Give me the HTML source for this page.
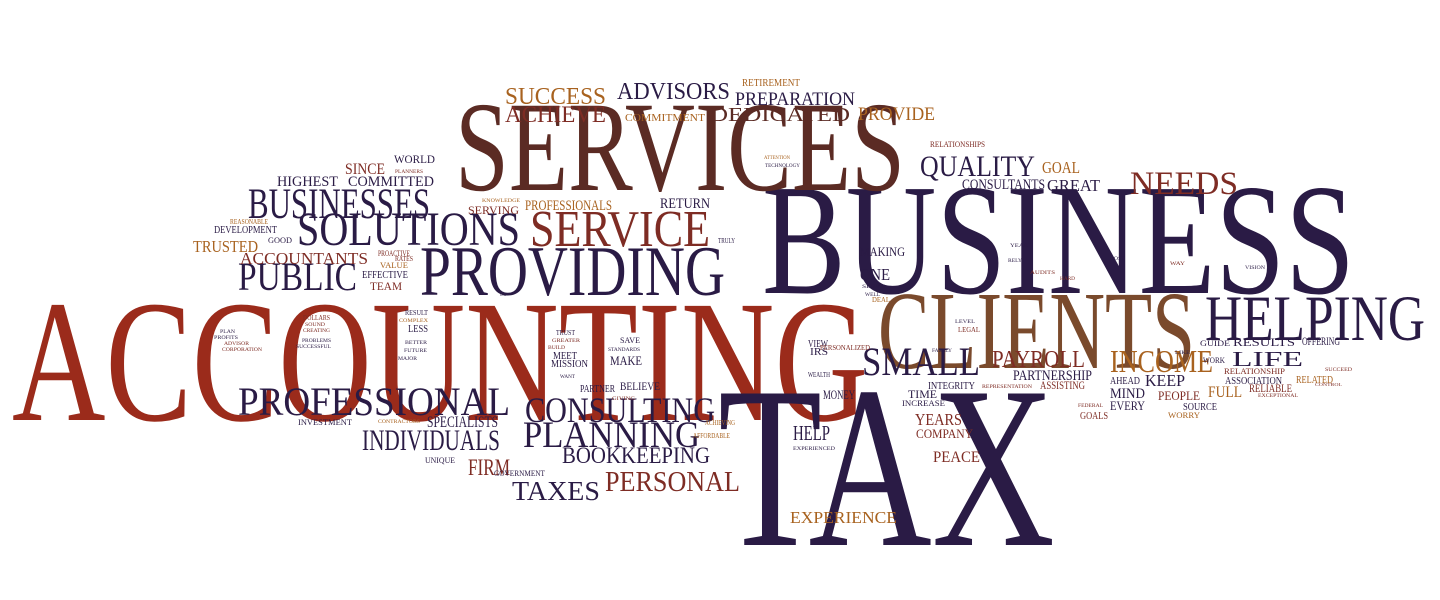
<!DOCTYPE html>
<html><head><meta charset="utf-8"><style>
html,body{margin:0;padding:0;background:#fff;width:1440px;height:600px;overflow:hidden}
svg text{font-family:"Liberation Serif",serif}
</style></head><body>
<svg id="cloud" width="1440" height="600" viewBox="0 0 1440 600" xmlns="http://www.w3.org/2000/svg"></svg>
<script>
const palette={N:"#2a1b45",R:"#9b2b1b",B:"#5b2b24",T:"#7a4a2c",O:"#a8621f",M:"#7e2c24"};
// [word, left, capTop, right, capBottom, color]
const words=[
["ACCOUNTING",12,298,868,420,"R"],
["TAX",718,383,1055,545,"N"],
["BUSINESS",762,182,1355,293,"N"],
["SERVICES",455,100,905,190,"B"],
["CLIENTS",878,290,1195,368,"T"],
["HELPING",1205,295,1425,340,"N"],
["PROVIDING",420,245,725,295,"N"],
["SOLUTIONS",297,212,520,245,"N"],
["BUSINESSES",248,188,430,218,"N"],
["SERVICE",530,210,710,246,"M"],
["PUBLIC",238,262,357,290,"N"],
["PROFESSIONAL",238,387,510,415,"N"],
["CONSULTING",525,397,715,422,"N"],
["PLANNING",523,421,700,447,"N"],
["INDIVIDUALS",362,429,500,450,"N"],
["SMALL",862,347,980,375,"N"],
["PAYROLL",992,350,1085,367,"M"],
["INCOME",1110,350,1213,372,"O"],
["LIFE",1232,351,1303,366,"N"],
["NEEDS",1130,171,1238,194,"M"],
["QUALITY",920,155,1035,176,"N"],
["GOAL",1042,161,1080,173,"O"],
["GREAT",1047,179,1100,191,"N"],
["CONSULTANTS",962,179,1045,189,"N"],
["SUCCESS",505,87,606,104,"O"],
["ACHIEVE",505,106,606,122,"M"],
["ADVISORS",617,82,730,99,"N"],
["PREPARATION",735,92,855,105,"N"],
["DEDICATED",710,107,850,121,"B"],
["PROVIDE",858,107,935,120,"O"],
["COMMITMENT",625,114,705,121,"O"],
["RETIREMENT",742,79,800,86,"O"],
["RELATIONSHIPS",930,141,985,147,"M"],
["HIGHEST",277,176,338,186,"N"],
["SINCE",345,163,385,174,"M"],
["COMMITTED",348,176,434,186,"N"],
["WORLD",394,155,435,163,"N"],
["PLANNERS",395,169,423,173,"M"],
["TRUSTED",193,240,258,252,"O"],
["REASONABLE",230,219,268,224,"O"],
["DEVELOPMENT",214,226,277,233,"N"],
["GOOD",268,237,292,243,"N"],
["ACCOUNTANTS",240,252,368,264,"M"],
["PROACTIVE",378,250,410,256,"M"],
["RATES",395,256,413,261,"M"],
["VALUE",380,262,408,268,"O"],
["EFFECTIVE",362,271,408,278,"N"],
["TEAM",370,282,402,290,"M"],
["EASE",500,292,506,296,"N"],
["PROFESSIONALS",525,200,612,210,"O"],
["SERVING",468,206,519,214,"M"],
["KNOWLEDGE",482,198,520,202,"O"],
["RETURN",660,198,710,208,"N"],
["TRULY",718,238,735,243,"N"],
["ATTENTION",764,155,790,159,"O"],
["TECHNOLOGY",765,163,800,167,"N"],
["MAKING",860,247,905,256,"N"],
["ONE",860,268,890,280,"N"],
["SERVE",862,284,885,288,"N"],
["WELL",865,292,880,296,"N"],
["DEAL",872,297,890,302,"O"],
["YEAR",1010,243,1028,247,"N"],
["RELY",1008,258,1022,262,"N"],
["AUDITS",1030,270,1055,274,"M"],
["HARD",1060,276,1075,280,"M"],
["COST",1110,256,1125,260,"N"],
["WAY",1170,261,1185,265,"M"],
["VISION",1245,265,1265,269,"N"],
["LEVEL",955,319,975,323,"N"],
["LEGAL",958,327,980,332,"M"],
["FAMILY",932,348,952,352,"N"],
["LIKE",1175,350,1190,354,"N"],
["VIEW",808,340,828,347,"N"],
["IRS",810,348,828,355,"N"],
["PERSONALIZED",820,345,870,350,"M"],
["WEALTH",808,372,830,377,"N"],
["MONEY",823,390,855,399,"N"],
["TIME",908,390,937,398,"N"],
["INTEGRITY",928,382,975,389,"N"],
["INCREASE",902,400,945,406,"N"],
["YEARS",915,413,962,425,"M"],
["COMPANY",916,429,973,438,"M"],
["PEACE",933,451,980,462,"M"],
["REPRESENTATION",982,384,1032,388,"M"],
["PARTNERSHIP",1013,370,1092,380,"N"],
["ASSISTING",1040,381,1085,389,"M"],
["GUIDE",1200,340,1230,346,"N"],
["RESULTS",1233,338,1295,346,"N"],
["OFFERING",1302,337,1340,345,"N"],
["WORK",1203,357,1225,363,"N"],
["AHEAD",1110,377,1140,384,"N"],
["KEEP",1145,374,1185,386,"N"],
["MIND",1110,388,1145,398,"N"],
["PEOPLE",1158,391,1200,400,"M"],
["FULL",1208,386,1242,397,"O"],
["RELATIONSHIP",1224,368,1285,374,"M"],
["ASSOCIATION",1225,377,1282,384,"N"],
["RELIABLE",1249,384,1292,392,"M"],
["EXCEPTIONAL",1258,393,1298,397,"M"],
["RELATED",1296,376,1333,383,"O"],
["SUCCEED",1325,367,1352,371,"M"],
["CONTROL",1315,383,1342,386,"M"],
["FEDERAL",1078,403,1103,407,"M"],
["EVERY",1110,401,1145,410,"N"],
["SOURCE",1183,403,1217,410,"N"],
["GOALS",1080,412,1108,419,"M"],
["WORRY",1168,412,1200,418,"O"],
["HELP",793,425,830,440,"N"],
["EXPERIENCED",793,446,835,450,"N"],
["EXPERIENCE",790,511,897,523,"O"],
["PERSONAL",605,471,740,491,"M"],
["BOOKKEEPING",562,447,710,463,"N"],
["FIRM",468,459,510,475,"M"],
["TAXES",512,481,600,500,"N"],
["GOVERNMENT",494,470,545,476,"N"],
["UNIQUE",425,457,455,463,"N"],
["INVESTMENT",298,419,352,425,"N"],
["CONTRACTORS",378,419,420,423,"O"],
["SPECIALISTS",427,416,498,427,"N"],
["ACHIEVING",705,420,735,425,"O"],
["AFFORDABLE",693,433,730,438,"O"],
["GIVING",612,396,635,400,"M"],
["BELIEVE",620,382,660,390,"N"],
["PARTNER",580,385,615,392,"N"],
["WANT",560,374,575,378,"N"],
["MAKE",610,356,642,365,"N"],
["STANDARDS",608,347,640,351,"N"],
["SAVE",620,337,640,343,"N"],
["MEET",553,352,577,359,"N"],
["MISSION",551,360,588,367,"N"],
["TRUST",556,330,575,335,"N"],
["GREATER",552,338,580,342,"M"],
["BUILD",548,345,565,349,"M"],
["LESS",408,325,428,332,"N"],
["RESULT",405,310,428,315,"N"],
["COMPLEX",399,318,428,322,"O"],
["BETTER",405,340,427,344,"N"],
["FUTURE",404,348,427,352,"N"],
["MAJOR",398,356,417,360,"N"],
["DOLLARS",303,315,330,320,"M"],
["SOUND",305,322,325,326,"M"],
["CREATING",303,328,330,332,"M"],
["PROBLEMS",302,338,331,342,"N"],
["SUCCESSFUL",296,344,331,348,"N"],
["PLAN",220,329,235,333,"N"],
["PROFITS",214,335,238,339,"N"],
["ADVISOR",224,341,249,345,"M"],
["CORPORATION",222,347,262,351,"M"]
];
const svg=document.getElementById('cloud');
const NS="http://www.w3.org/2000/svg";
for(const w of words){
  const [t,l,top,r,b,c]=w;
  const h=Math.max(3,b-top);
  const fs=h/0.70;
  const el=document.createElementNS(NS,'text');
  el.setAttribute('x',l);
  el.setAttribute('y',b);
  el.setAttribute('font-size',fs.toFixed(1));
  el.setAttribute('fill',palette[c]);
  el.setAttribute('textLength',Math.max(4,r-l));
  el.setAttribute('lengthAdjust','spacingAndGlyphs');
  el.textContent=t;
  
  
  svg.appendChild(el);
}
</script>
</body></html>
